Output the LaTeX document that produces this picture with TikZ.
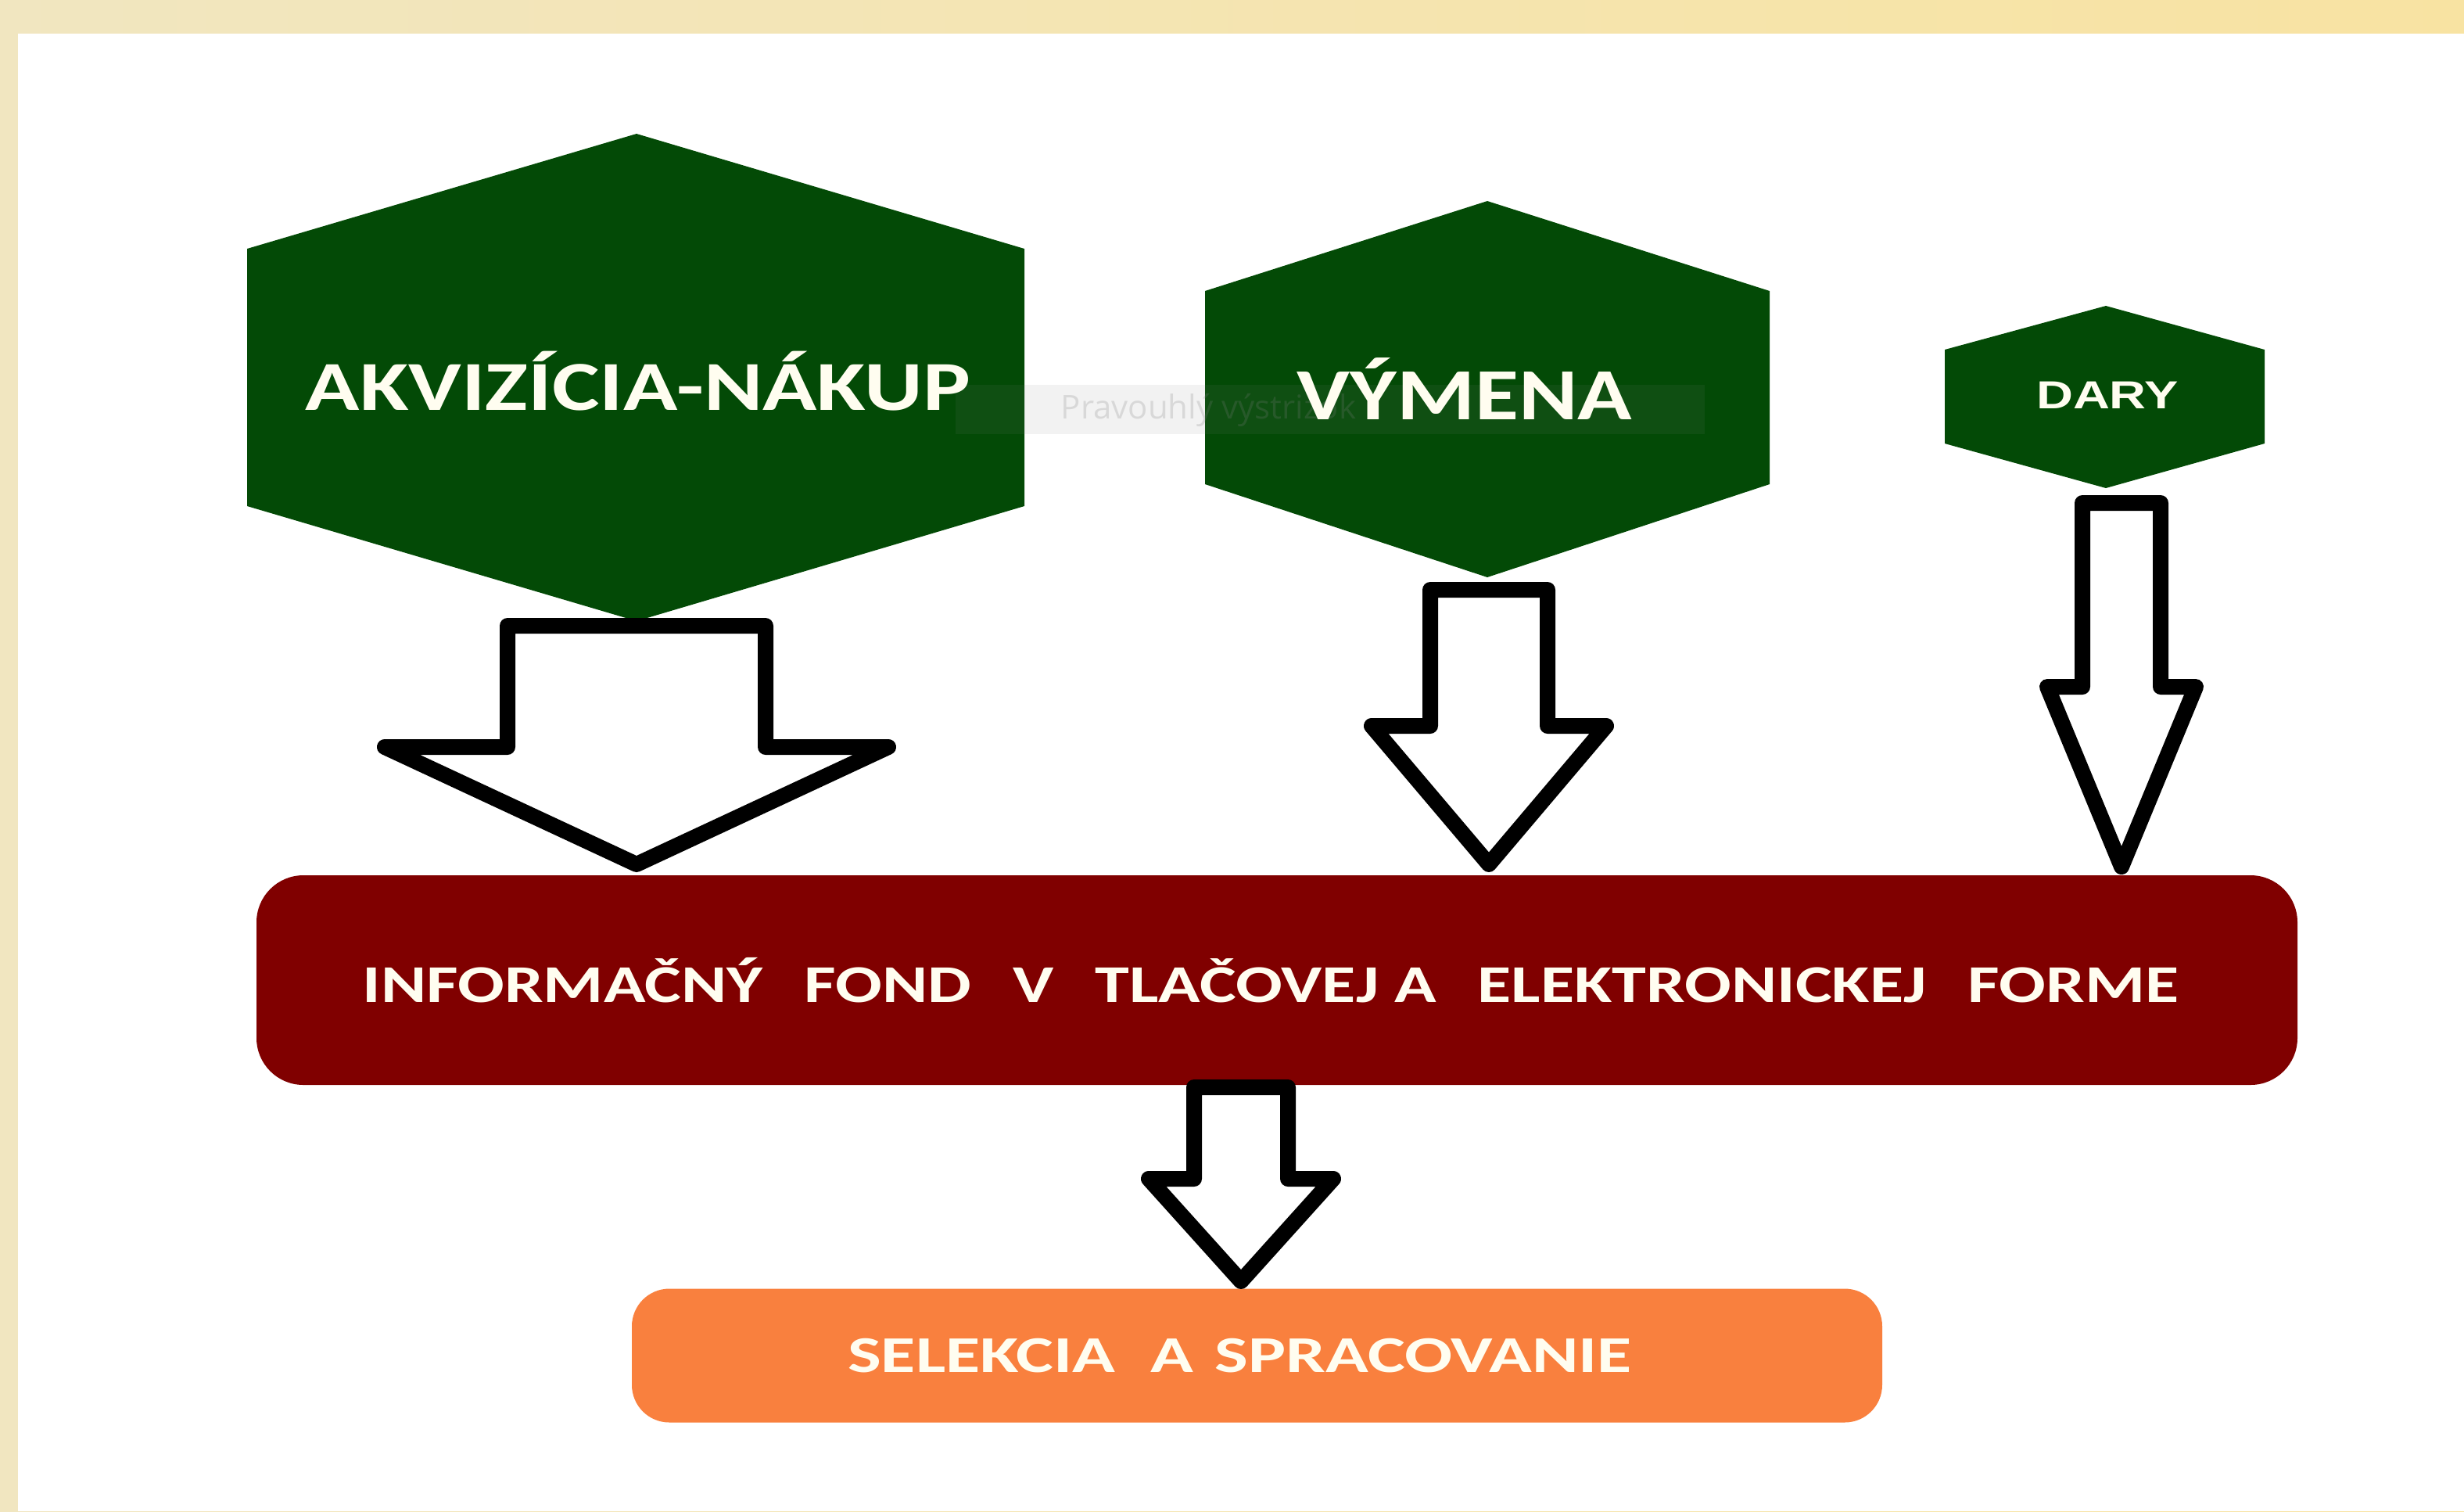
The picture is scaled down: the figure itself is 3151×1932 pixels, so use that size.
\documentclass[tikz,border=0pt]{standalone}
\usepackage{fontspec}
\setmainfont{Carlito}
\newfontfamily\arialfont{Liberation Sans}
\newfontfamily\uifont{Open Sans}
\definecolor{hexgreen}{HTML}{034A06}
\definecolor{fondred}{HTML}{800000}
\definecolor{selorange}{HTML}{F9803E}
\definecolor{frameL}{HTML}{F1E6C0}
\definecolor{frameR}{HTML}{F8E3A2}
\definecolor{txtwhite}{HTML}{FFFDF0}
\tikzset{
  hexshape/.style={fill=hexgreen},
  hextext/.style={text=txtwhite, inner sep=0pt, font=\bfseries\fontsize{22}{26}\selectfont},
  blockarrow/.style={draw=black, fill=white, line width=5pt, line join=round},
  fondbox/.style={fill=fondred, rounded corners=15pt, inner sep=0pt, text=txtwhite,
    minimum width=652.5pt, minimum height=67pt, font=\bfseries\fontsize{17}{20}\selectfont},
  selbox/.style={fill=selorange, rounded corners=12pt, inner sep=0pt, text=txtwhite,
    minimum width=399.75pt, minimum height=42.75pt, font=\bfseries\fontsize{16.5}{19}\selectfont},
}
\newcommand{\blockarr}[7]{% name, cx, top, headY, tip, shaft half, head half
  \draw[blockarrow] ({#2-#6},#3) coordinate (#1top) -- ({#2+#6},#3) -- ({#2+#6},#4) -- ({#2+#7},#4)
    -- (#2,#5) coordinate (#1tip) -- ({#2-#7},#4) -- ({#2-#6},#4) -- cycle;}
\begin{document}
\begin{tikzpicture}[x=0.25pt,y=-0.25pt]
\useasboundingbox (0,0) rectangle (3151,1932);
\shade[left color=frameL,right color=frameR] (0,0) rectangle (3151,1932);
\fill[white] (23,43) rectangle (3151,1932);

% hexagons
\fill[hexshape] (814,171) -- (1310,318) -- (1310,647) -- (814,794) -- (316,647) -- (316,318) -- cycle;
\fill[hexshape] (1902,257) -- (2263,372) -- (2263,619) -- (1902,738) -- (1541,619) -- (1541,372) -- cycle;
\fill[hexshape] (2693,391) -- (2896,447) -- (2896,567) -- (2693,624) -- (2487,567) -- (2487,447) -- cycle;

% faint overlay (tooltip)
\fill[gray, opacity=0.10] (1222,492) rectangle (2180,555);
\node[anchor=west, text=gray, opacity=0.22, inner sep=0pt, font=\uifont\fontsize{10.5}{12}\selectfont] (tip) at (1356,524) {Pravouhlý výstrižok};

\node[hextext] (akv) at (816,487) {\scalebox{1.3}[1.02]{AKVIZÍCIA-NÁKUP}};
\node[hextext, font=\bfseries\fontsize{23.5}{27}\selectfont] (vym) at (1873,497) {\scalebox{1.22}[1]{VÝMENA}};
\node[hextext, font=\arialfont\bfseries\fontsize{12.5}{14}\selectfont] (dary) at (2695,505) {\scalebox{1.3}[1]{DARY}};

% boxes
\node[fondbox] (fond) at (1633,1253) {\hspace{-4pt}\scalebox{1.3}[1]{INFORMAČNÝ\hspace{0.6em}FOND\hspace{0.6em}V\hspace{0.6em}TLAČOVEJ A\hspace{0.6em}ELEKTRONICKEJ\hspace{0.6em}FORME}};
\node[selbox] (sel) at (1607.5,1733) {\scalebox{1.37}[1]{SELEKCIA\hspace{0.5em}A\hspace{0.3em}SPRACOVANIE}\hspace{11pt}\null};

% block arrows
\blockarr{a}{814}{800}{955}{1105}{165}{322}
\blockarr{b}{1904}{754}{928}{1105}{75}{150}
\blockarr{c}{2713}{643}{878}{1108}{50}{95}
\blockarr{d}{1587}{1390}{1507}{1638}{60}{118}
\end{tikzpicture}
\end{document}
